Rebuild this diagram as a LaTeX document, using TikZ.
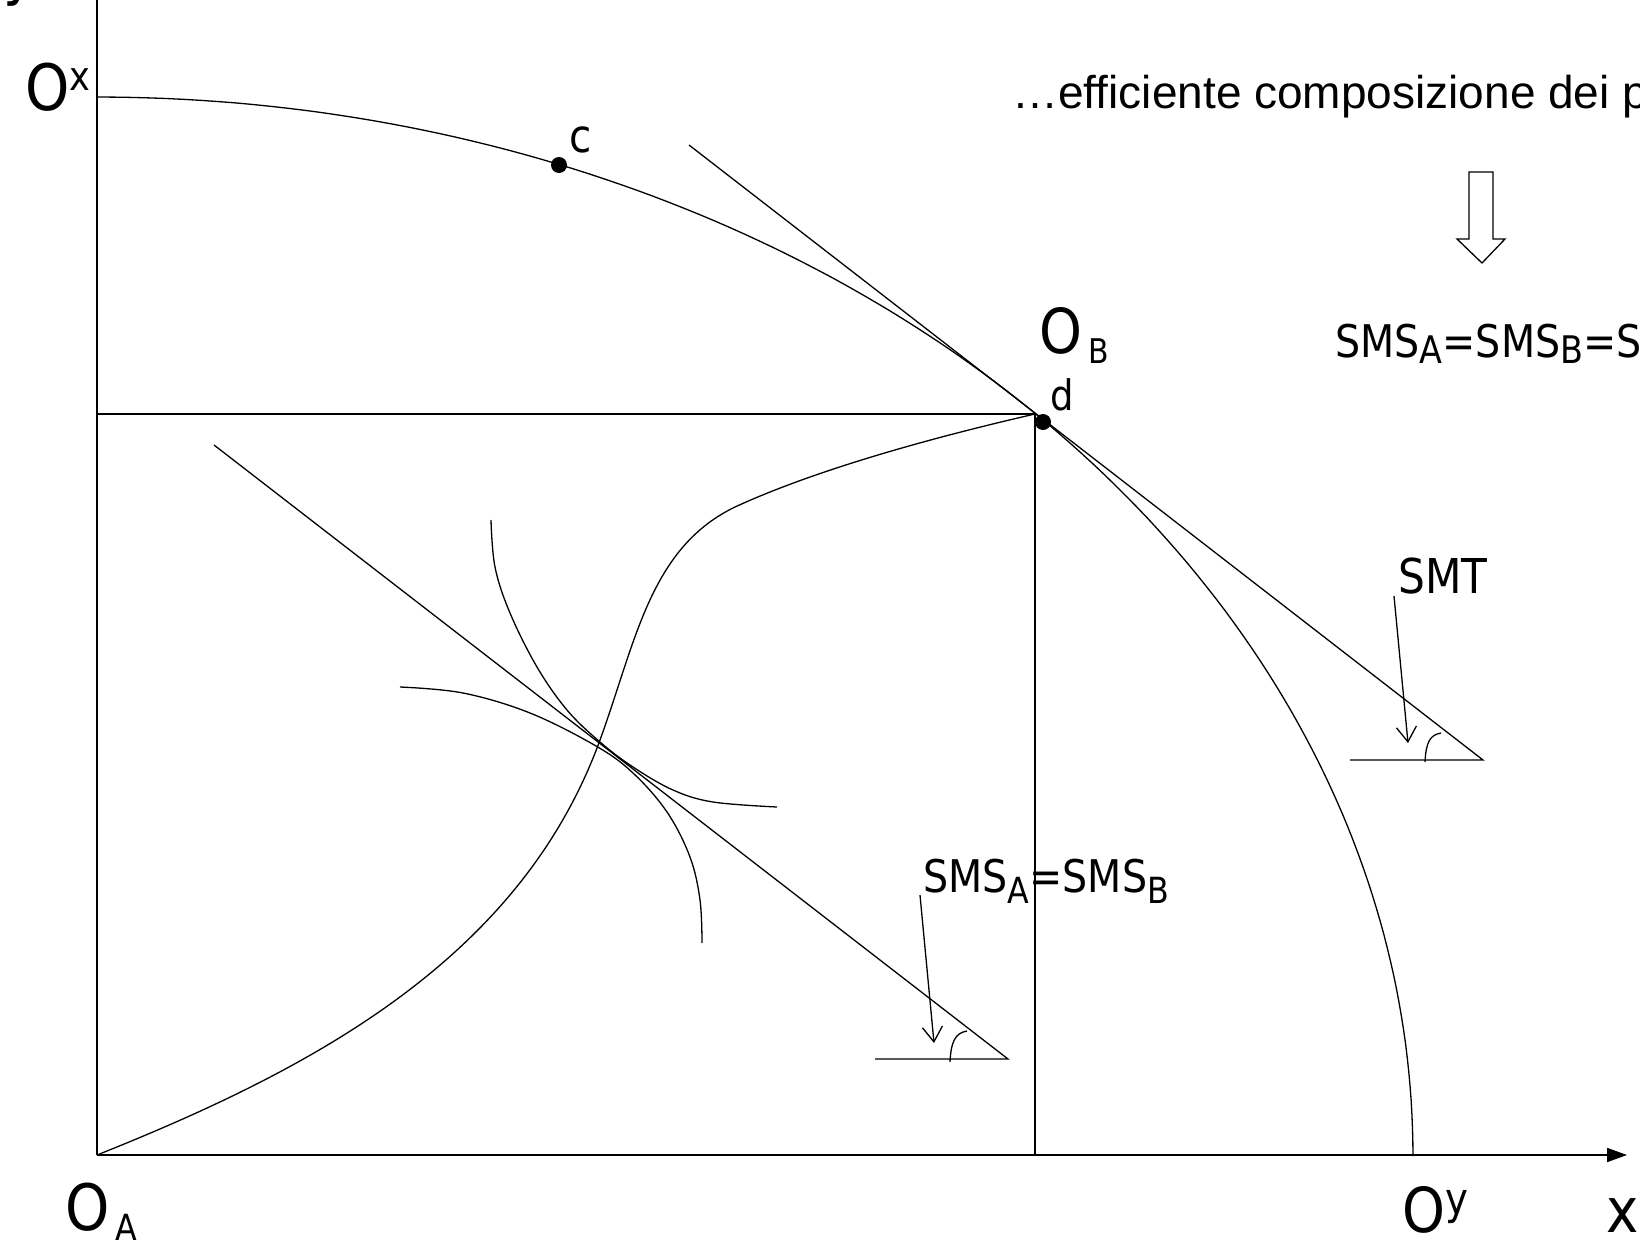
\documentclass[tikz,border=0pt]{standalone}
\usepackage{fontspec}
\setmainfont{Liberation Sans}
\newfontfamily\tah[FakeStretch=0.88]{DejaVu Sans}
\newfontfamily\ari{Liberation Sans}
\usetikzlibrary{arrows.meta}
\newcommand{\fsz}[1]{\fontsize{#1}{#1}\selectfont}
\begin{document}
\begin{tikzpicture}[x=0.5pt,y=-0.5pt,
  thinl/.style={line width=0.65pt},
  axl/.style={line width=0.9pt},
  lbl/.style={inner sep=0pt, anchor=base west, font=\tah},
  dot/.style={circle, fill=black, inner sep=0pt, minimum size=8pt},
  barb/.style={-{Straight Barb[length=7.5pt,width=10pt]}, line width=0.65pt}]
\useasboundingbox (0,0) rectangle (1640,1248);
\clip (0,0) rectangle (1640,1248);

% key points
\coordinate (OA) at (97,1155);
\coordinate (Ytop) at (97,0);
\coordinate (Xend) at (1627,1155);
\coordinate (Box) at (1035,414);
\coordinate (BoxL) at (97,414);
\coordinate (BoxB) at (1035,1155);

% axes
\draw[axl] (Ytop) -- (OA);
\draw[axl,-{Triangle[length=10pt,width=7pt]}] (OA) -- (Xend);

% Edgeworth box sides
\draw[axl] (BoxL) -- (Box);
\draw[line width=1.2pt] (Box) -- (BoxB);

% production possibility frontier
\draw[thinl] plot[domain=0:90, samples=120] ({97+1316*cos(\x)}, {1156-1059*sin(\x)});

% contract curve
\coordinate (K1) at (600,740);
\coordinate (K2) at (735,507);
\draw[thinl] (OA) .. controls (310,1070) and (520,960) .. (K1)
  .. controls (636,641) and (650,548) .. (K2)
  .. controls (800,477) and (900,445) .. (Box);

% isoquants
\draw[thinl] plot[smooth, tension=0.6] coordinates {(491,520) (495,567) (510,613) (537,667) (567,710) (600,742) (633,767) (673,790) (713,802) (777,807)};
\draw[thinl] plot[smooth, tension=0.6] coordinates {(400,687) (463,693) (530,713) (596,746) (633,773) (667,812) (690,857) (700,900) (702,943)};

% tangent lines and triangles
\coordinate (T1a) at (214,445);
\coordinate (T1b) at (1008,1059);
\coordinate (T1h) at (875,1059);
\draw[thinl] (T1a) -- (T1b) -- (T1h);
\draw[thinl] (950,1062) .. controls (951,1042) and (955,1033) .. (967,1031);

\coordinate (T2a) at (689,145);
\coordinate (T2b) at (1483,760);
\coordinate (T2h) at (1350,760);
\draw[thinl] (T2a) -- (T2b) -- (T2h);
\draw[thinl] (1425,762) .. controls (1426,742) and (1430,735) .. (1441,733);

% dots
\node[dot] (c) at (559,165) {};
\node[dot] (d) at (1043,422) {};

% hollow arrow
\draw[thinl] (1469,172) -- (1493,172) -- (1493,239) -- (1505,239) -- (1482,263) -- (1457,239) -- (1469,239) -- cycle;

% labels
\node[lbl] (ly) at (3,-7) {\fsz{31}y};
\node[lbl] (lOx) at (25,110) {\fsz{32}O\raisebox{10pt}{\fsz{20}x}};
\node[lbl] (lc) at (569,152) {\fsz{23}c};
\node[lbl] (lOB) at (1039,353) {\fsz{31}O\hspace{3pt}\raisebox{-5pt}{\fsz{17}B}};
\node[lbl] (ld) at (1050,410) {\fsz{21}d};
\node[lbl] (ltext) at (1012,108) {\ari\fsz{23}…efficiente composizione dei p};
\node[lbl] (lsms2) at (1335,357) {\fsz{22.5}SMS\raisebox{-3pt}{\fsz{19}A}=SMS\raisebox{-3pt}{\fsz{19}B}=S};
\node[lbl] (lSMT) at (1398,593) {\fsz{24}SMT};
\node[lbl] (lsms) at (923,892) {\fsz{22.5}SMS\raisebox{-5.5pt}{\fsz{18}A}=SMS\raisebox{-5.5pt}{\fsz{18}B}};
\node[lbl] (lOA) at (65,1230) {\fsz{32}O\hspace{3pt}\raisebox{-5pt}{\fsz{18}A}};
\node[lbl] (lOy) at (1402,1232) {\fsz{31}O\raisebox{9pt}{\fsz{22}y}};
\node[lbl] (lx) at (1606,1232) {\fsz{31}x};

% label pointers
\coordinate (a1s) at (920,895);
\coordinate (a1e) at (934,1043);
\coordinate (a2s) at (1394,596);
\coordinate (a2e) at (1408,743);
\draw[barb] (a1s) -- (a1e);
\draw[barb] (a2s) -- (a2e);
\end{tikzpicture}
\end{document}
